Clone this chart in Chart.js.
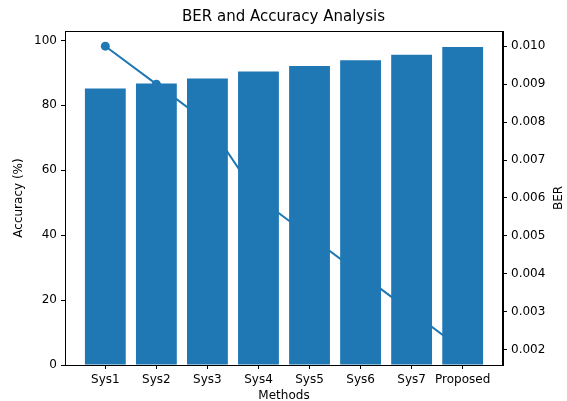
<!DOCTYPE html>
<html>
<head>
<meta charset="utf-8">
<script src="https://cdn.jsdelivr.net/npm/chart.js@4"></script>
<style>
  html, body { margin: 0; padding: 0; background: #fff; }
  #wrap { width: 567px; height: 401px; }
</style>
</head>
<body>
<div id="wrap"><canvas id="chart"></canvas></div>
<script>
var methods = ["Sys1", "Sys2", "Sys3", "Sys4", "Sys5", "Sys6", "Sys7", "Proposed"];
var accuracy = [85.2, 86.7, 88.3, 90.4, 92.1, 93.9, 95.6, 98.0];
var ber = [0.010, 0.009, 0.008, 0.006, 0.005, 0.004, 0.003, 0.002];

var blue = "#1f77b4";
var fontFamily = "'DejaVu Sans', sans-serif";

function points(values) {
  return values.map(function (v, i) { return { x: i, y: v }; });
}

// frame round the plot and the right hand label, matplotlib style
var framePlugin = {
  id: "frame",
  afterDraw: function (chart) {
    var ctx = chart.ctx;
    var a = chart.chartArea;
    ctx.save();
    ctx.strokeStyle = "#000";
    ctx.lineWidth = 1;
    ctx.strokeRect(a.left + 0.5, a.top + 0.5, a.right - a.left - 1, a.bottom - a.top);
    ctx.translate(559, (a.top + a.bottom) / 2);
    ctx.rotate(-Math.PI / 2);
    ctx.fillStyle = "#000";
    ctx.font = "12px " + fontFamily;
    ctx.textAlign = "center";
    ctx.textBaseline = "middle";
    ctx.fillText("BER", 0, 0);
    ctx.restore();
  }
};

var ctx = document.getElementById("chart");
new Chart(ctx, {
  type: "bar",
  data: {
    datasets: [
      {
        type: "bar",
        label: "Accuracy",
        data: points(accuracy),
        backgroundColor: blue,
        yAxisID: "y",
        order: 1,
        categoryPercentage: 1,
        barPercentage: 0.8
      },
      {
        type: "line",
        label: "BER",
        data: points(ber),
        borderColor: blue,
        backgroundColor: blue,
        borderWidth: 2,
        pointRadius: 4.5,
        pointBackgroundColor: blue,
        pointBorderWidth: 0,
        yAxisID: "y1",
        order: 2
      }
    ]
  },
  options: {
    responsive: true,
    maintainAspectRatio: false,
    animation: false,
    layout: { padding: 0 },
    plugins: {
      legend: { display: false },
      tooltip: { enabled: false },
      title: {
        display: true,
        text: "BER and Accuracy Analysis",
        color: "#000",
        font: { family: fontFamily, size: 15, weight: "normal" },
        padding: { top: 8, bottom: 5 }
      }
    },
    scales: {
      x: {
        type: "linear",
        offset: false,
        min: -0.79,
        max: 7.79,
        afterFit: function (s) { s.height = 36; },
        grid: { display: true, offset: false, drawOnChartArea: false, drawTicks: true, tickLength: 4, color: "#000" },
        border: { display: true, color: "#000" },
        ticks: {
          stepSize: 1,
          includeBounds: false,
          autoSkip: false,
          maxRotation: 0,
          padding: 4,
          color: "#000",
          font: { family: fontFamily, size: 12 },
          callback: function (v) {
            return Number.isInteger(v) && methods[v] !== undefined ? methods[v] : "";
          }
        },
        title: {
          display: true,
          text: "Methods",
          color: "#000",
          font: { family: fontFamily, size: 12 },
          padding: { top: 0, bottom: -2 }
        }
      },
      y: {
        position: "left",
        min: 0,
        max: 102.9,
        afterFit: function (s) { s.width = 65; },
        grid: { display: true, drawOnChartArea: false, drawTicks: true, tickLength: 4, color: "#000" },
        border: { display: true, color: "#000" },
        ticks: {
          stepSize: 20,
          includeBounds: false,
          padding: 4,
          color: "#000",
          font: { family: fontFamily, size: 12 }
        },
        title: {
          display: true,
          text: "Accuracy (%)",
          color: "#000",
          font: { family: fontFamily, size: 12 },
          padding: { top: 12, bottom: 0 }
        }
      },
      y1: {
        position: "right",
        min: 0.0016,
        max: 0.0104,
        afterFit: function (s) { s.width = 64; },
        grid: { display: true, drawOnChartArea: false, drawTicks: true, tickLength: 4, color: "#000" },
        border: { display: true, color: "#000" },
        ticks: {
          stepSize: 0.001,
          includeBounds: false,
          padding: 4,
          color: "#000",
          font: { family: fontFamily, size: 12 },
          callback: function (v) { return v.toFixed(3); }
        },
        title: { display: false }
      }
    }
  },
  plugins: [framePlugin]
});
</script>
</body>
</html>
